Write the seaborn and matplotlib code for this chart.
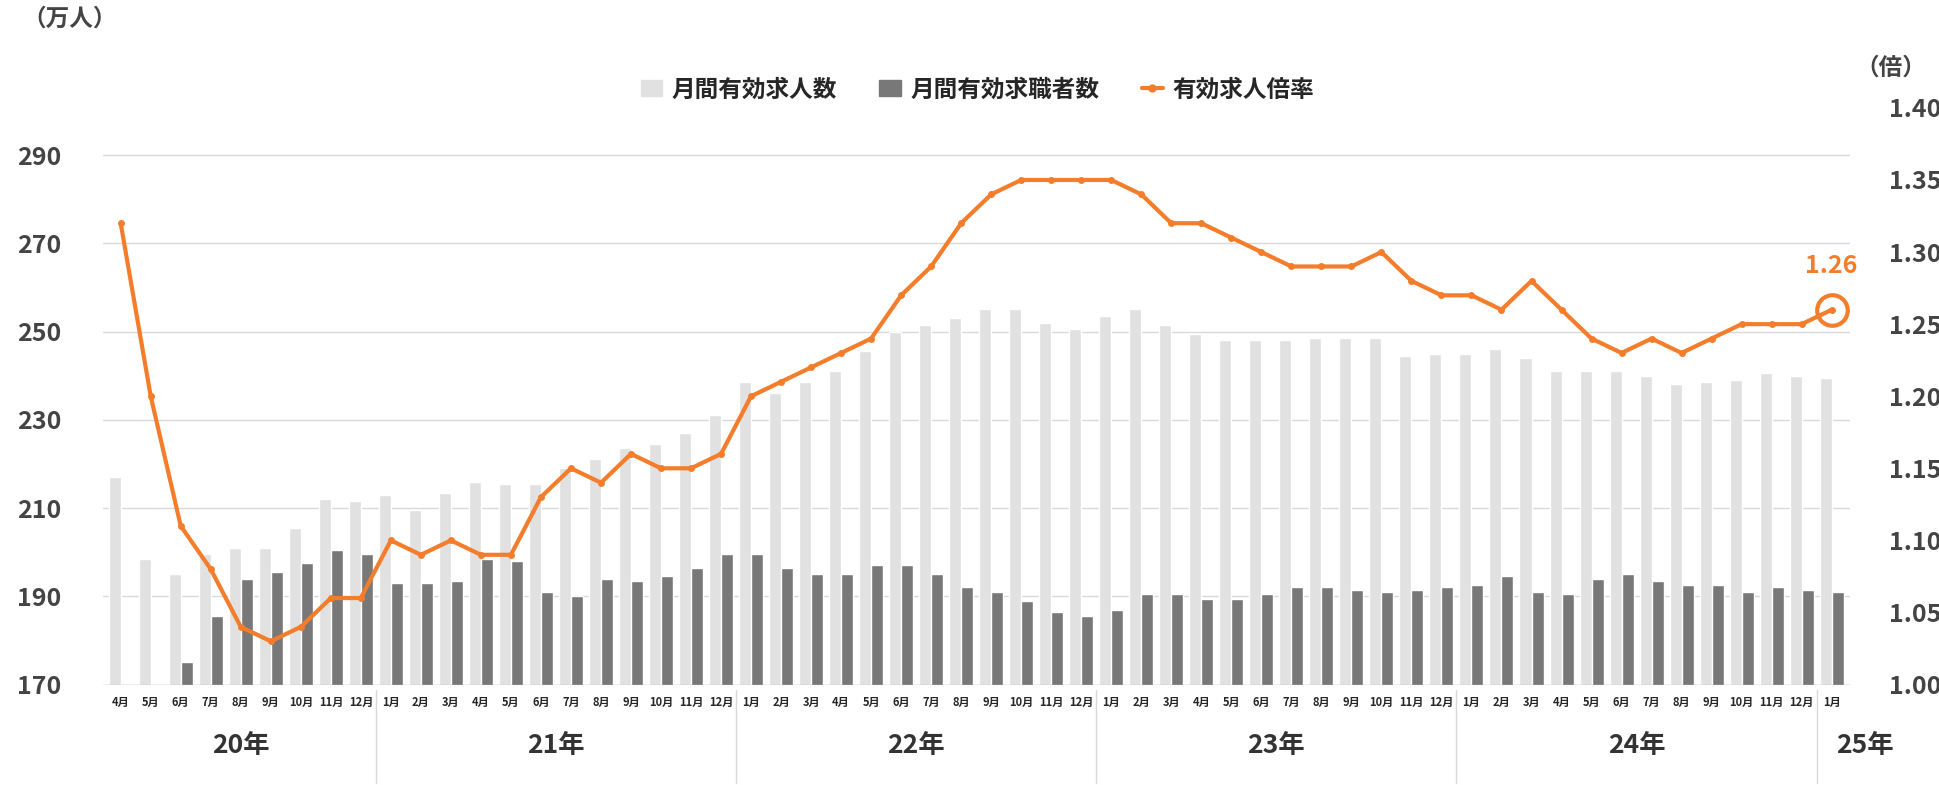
import matplotlib
matplotlib.use("Agg")
import matplotlib.pyplot as plt
import seaborn as sns
import pandas as pd
import numpy as np
from matplotlib.patches import Patch
from matplotlib.lines import Line2D
import matplotlib.transforms as mtrans

years = ["20年", "21年", "22年", "23年", "24年", "25年"]
months = [f"{m}月" for m in range(4, 13)] + [f"{m}月" for m in range(1, 13)] * 4 + ["1月"]
openings = [217, 198.5, 195, 199.5, 201, 201, 205.5, 212, 211.5,
            213, 209.5, 213.5, 216, 215.5, 215.5, 219, 221, 223.5, 224.5, 227, 231,
            238.5, 236, 238.5, 241, 245.5, 250, 251.5, 253, 255, 255, 252, 250.5,
            253.5, 255, 251.5, 249.5, 248, 248, 248, 248.5, 248.5, 248.5, 244.5, 245,
            245, 246, 244, 241, 241, 241, 240, 238, 238.5, 239, 240.5, 240,
            239.5]
seekers = [164, 165, 175, 185.5, 194, 195.5, 197.5, 200.5, 199.5,
           193, 193, 193.5, 198.5, 198, 191, 190, 194, 193.5, 194.5, 196.5, 199.5,
           199.5, 196.5, 195, 195, 197, 197, 195, 192, 191, 189, 186.5, 185.5,
           187, 190.5, 190.5, 189.5, 189.5, 190.5, 192, 192, 191.5, 191, 191.5, 192,
           192.5, 194.5, 191, 190.5, 194, 195, 193.5, 192.5, 192.5, 191, 192, 191.5,
           191]
ratio = [1.32, 1.20, 1.11, 1.08, 1.04, 1.03, 1.04, 1.06, 1.06,
         1.10, 1.09, 1.10, 1.09, 1.09, 1.13, 1.15, 1.14, 1.16, 1.15, 1.15, 1.16,
         1.20, 1.21, 1.22, 1.23, 1.24, 1.27, 1.29, 1.32, 1.34, 1.35, 1.35, 1.35,
         1.35, 1.34, 1.32, 1.32, 1.31, 1.30, 1.29, 1.29, 1.29, 1.30, 1.28, 1.27,
         1.27, 1.26, 1.28, 1.26, 1.24, 1.23, 1.24, 1.23, 1.24, 1.25, 1.25, 1.25,
         1.26]
year_counts = [9, 12, 12, 12, 12, 1]

sns.set_theme(style="white")
plt.rcParams['font.family'] = ['Noto Sans CJK JP', 'DejaVu Sans']

n = len(months)
idx = list(range(n))
df = pd.DataFrame({
    "pos": idx * 2,
    "val": openings + seekers,
    "series": ["月間有効求人数"] * n + ["月間有効求職者数"] * n,
})

W, H = 1568, 633  # reference layout coordinates
fig = plt.figure(figsize=(19.4, 7.85), dpi=100)
ax = fig.add_axes([83 / W, 1 - 552 / H, (1495 - 83) / W, (552 - 87) / H])

sns.barplot(data=df, x="pos", y="val", hue="series", order=idx,
            palette={"月間有効求人数": "#e1e1e1", "月間有効求職者数": "#787878"},
            dodge=True, width=0.8, ax=ax, legend=False, saturation=1)
ax.set_ylim(170, 170 + 120 * 465 / 427)
ax.set_yticks([170, 190, 210, 230, 250, 270, 290])
ax.set_xlim(-0.6, n - 0.4)
ax.grid(axis="y", color="#d9d9d9", lw=1)
ax.set_axisbelow(True)
ax.set_xticks(idx)
ax.set_xticklabels(months, fontsize=8, fontweight="bold")
ax.tick_params(axis="x", length=0, pad=8)
ax.tick_params(axis="y", labelsize=18, length=0, pad=30)
for l in ax.get_yticklabels():
    l.set_fontweight("bold"); l.set_color("#444444")
ax.set_xlabel(""); ax.set_ylabel("")
for s in ax.spines.values():
    s.set_visible(False)
ax.axhline(170, color="#bfbfbf", lw=1)

ax2 = ax.twinx()
sns.lineplot(x=idx, y=ratio, ax=ax2, color="#f47d2b", lw=3, marker="o",
             markersize=5, markeredgewidth=0)
ax2.set_ylim(1.00, 1.40)
ax2.set_yticks(np.arange(1.00, 1.401, 0.05))
ax2.set_yticklabels([f"{v:.2f}" for v in np.arange(1.00, 1.401, 0.05)], fontsize=18,
                    fontweight="bold", color="#444444")
ax2.tick_params(axis="y", length=0, pad=28)
for s in ax2.spines.values():
    s.set_visible(False)
ax2.plot([n - 1], [ratio[-1]], marker="o", ms=22, mfc="none", mec="#f47d2b", mew=3)
ax2.text(n - 1, ratio[-1] + 0.022, f"{ratio[-1]:.2f}", color="#f47d2b", fontsize=18,
         fontweight="bold", ha="center", va="bottom")

trans = mtrans.blended_transform_factory(ax.transData, ax.transAxes)
start = 0
for y, c in zip(years, year_counts):
    end = start + c
    xc = (start + end - 1) / 2 if c > 1 else end - 0.5 + 0.6
    ax.text(xc, -0.105, y, transform=trans, ha="center", va="center",
            fontsize=19, fontweight="bold", color="#333333")
    if end < n:
        ax.plot([end - 0.5, end - 0.5], [-0.01, -0.17], transform=trans, color="#d9d9d9",
                lw=1, clip_on=False)
    start = end

fig.text(18 / W, 1 - 5 / H, "（万人）", fontsize=17, fontweight="bold", color="#444444", va="top")
fig.text(1500 / W, 1 - 45 / H, "（倍）", fontsize=17, fontweight="bold", color="#444444", va="top")

handles = [Patch(color="#e1e1e1", label="月間有効求人数"),
           Patch(color="#787878", label="月間有効求職者数"),
           Line2D([0], [0], color="#f47d2b", lw=3, marker="o", ms=5, label="有効求人倍率")]
fig.legend(handles=handles, loc="center", bbox_to_anchor=(790 / W, 1 - 72 / H), ncol=3,
           frameon=False, prop={"size": 17, "weight": "bold"}, handlelength=0.9,
           handletextpad=0.4, columnspacing=1.8)

fig.savefig("out.png", dpi=100)
